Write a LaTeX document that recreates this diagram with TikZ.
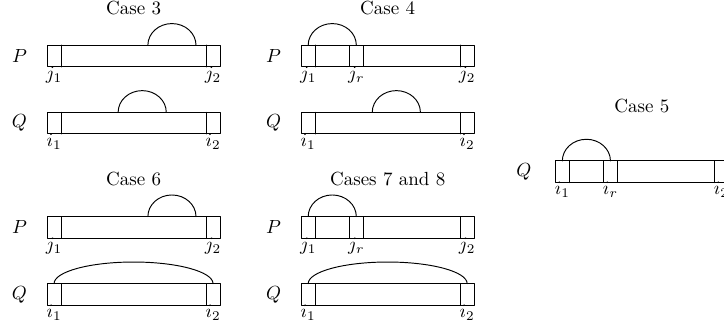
\documentclass[tikz,border=0pt]{standalone}
\begin{document}
\begin{tikzpicture}[x=1mm,y=1mm,line width=.5pt,
 line cap=round,line join=round,
 lbl/.style={anchor=base,inner sep=0pt},
 ttl/.style={anchor=base}]
\clip (0,0) rectangle (133.9,60.66);
\foreach \xo/\yo/\ttext/\pr/\qw [count=\n] in
 {8.7/48.3/Case 3/0/0,55.7/48.3/Case 4/1/0,
  8.7/16.6/Case 6/0/1,55.7/16.6/Cases 7 and 8/1/1}{
\begin{scope}[shift={(\xo,\yo)}]
\node[ttl] (title\n) at (16,9.7) {\ttext};
% row P
\draw (0,0) rectangle (32,4);
\draw (2.6,0)--(2.6,4);
\draw (29.4,0)--(29.4,4);
\node (P\n) at (-5.1,2) {$P$};
\node[lbl] (pa\n) at (1.3,-2.3) {$j_1$};
\node[lbl] (pb\n) at (30.7,-2.3) {$j_2$};
\ifnum\pr=0
 \draw (18.65,4) arc[start angle=180,end angle=0,x radius=4.45,y radius=4];
\else
 \draw (8.9,0) rectangle (11.5,4);
 \node[lbl] (pr\n) at (10.2,-2.3) {$j_r$};
 \draw (1.3,4) arc[start angle=180,end angle=0,x radius=4.45,y radius=4];
\fi
% row Q
\draw (0,-12.4) rectangle (32,-8.4);
\draw (2.6,-12.4)--(2.6,-8.4);
\draw (29.4,-12.4)--(29.4,-8.4);
\node (Q\n) at (-5.1,-10.4) {$Q$};
\node[lbl] (qa\n) at (1.3,-14.7) {$i_1$};
\node[lbl] (qb\n) at (30.7,-14.7) {$i_2$};
\ifnum\qw=0
 \draw (13.15,-8.4) arc[start angle=180,end angle=0,x radius=4.45,y radius=4];
\else
 \draw (1.3,-8.4) arc[start angle=180,end angle=0,x radius=14.7,y radius=4];
\fi
\end{scope}
}
% case 5, Q only
\begin{scope}[shift={(102.7,26.9)}]
\node[ttl] (title5) at (16,12.9) {Case 5};
\draw (0,0) rectangle (32,4);
\draw (2.6,0)--(2.6,4);
\draw (29.4,0)--(29.4,4);
\draw (8.9,0) rectangle (11.5,4);
\draw (1.3,4) arc[start angle=180,end angle=0,x radius=4.45,y radius=4];
\node (Q5) at (-5.8,2) {$Q$};
\node[lbl] (qa5) at (1.3,-2.3) {$i_1$};
\node[lbl] (qr5) at (10.2,-2.3) {$i_r$};
\node[lbl] (qb5) at (30.7,-2.3) {$i_2$};
\end{scope}
\end{tikzpicture}
\end{document}
